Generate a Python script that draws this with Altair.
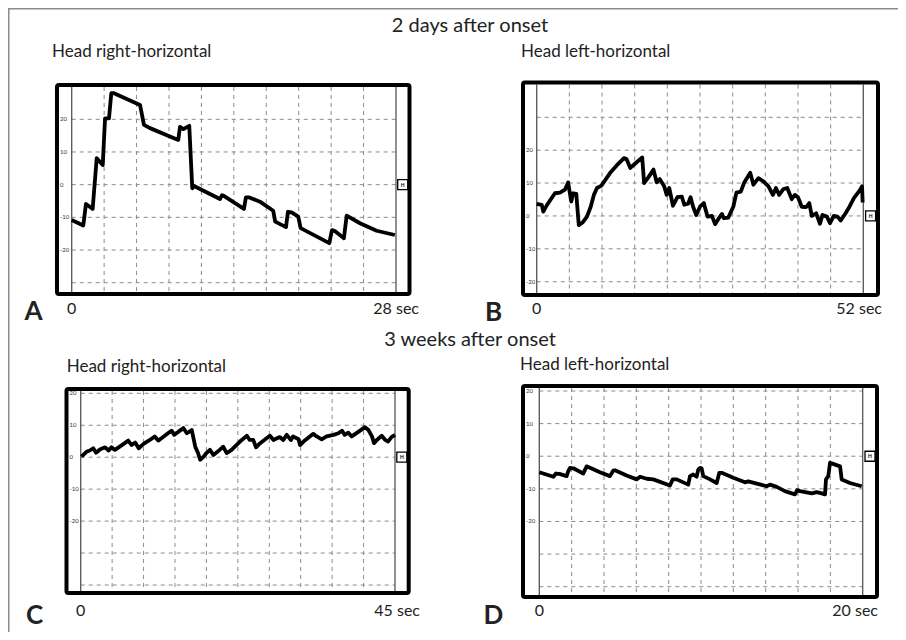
import altair as alt
import pandas as pd

# ---------------- data ----------------
A_t = [0, 1.00, 1.23, 1.81, 2.16, 2.68, 2.88, 3.22, 3.42, 3.65, 5.90, 6.24, 6.76, 9.20, 9.35, 9.64,
       10.15, 10.41, 10.56, 12.80, 12.98, 13.17, 14.87, 15.04, 15.33, 16.25, 17.40, 17.57, 18.50,
       18.67, 18.99, 19.56, 19.77, 22.24, 22.47, 22.72, 23.50, 23.74, 24.89, 26.33, 27.9]
A_v = [-10.8, -12.5, -5.9, -7.4, 8.1, 6.0, 20.3, 20.3, 28.0, 28.0, 24.4, 18.3, 17.3, 13.7, 17.7, 17.0,
       18.0, -1.1, -0.4, -4.4, -3.2, -3.5, -7.4, -3.9, -3.9, -5.2, -8.0, -11.3, -13.0,
       -8.3, -8.5, -9.8, -13.3, -17.9, -13.9, -14.2, -16.4, -9.5, -11.8, -14.1, -15.4]

B_t = [0, 0.8, 1.05, 1.6, 2.9, 3.7, 4.5, 5.0, 5.5, 5.8, 6.3, 6.7, 7.3, 8.0, 8.6, 9.1, 9.6, 10.3,
       11.7, 12.7, 13.9, 14.3, 14.9, 15.6, 16.8, 17.1, 17.8, 18.6, 19.1, 19.6, 20.3, 20.7, 21.1,
       21.7, 22.4, 23.1, 23.5, 24.1, 24.5, 24.9, 25.4, 26.0, 26.6, 27.2, 27.9, 28.4, 28.9, 29.5,
       29.8, 30.5, 31.3, 31.8, 32.5, 33.0, 34.0, 34.5, 35.3, 36.1, 36.9, 37.6, 38.1, 38.6, 39.3,
       39.9, 40.6, 41.1, 41.6, 42.2, 42.9, 43.4, 43.8, 44.5, 45.1, 45.5, 46.2, 46.7, 47.3, 47.9,
       48.4, 49.1, 49.8, 50.5, 51.4, 51.8, 51.9]
B_v = [3.7, 3.4, 1.3, 3.2, 6.9, 7.1, 8.0, 10.2, 4.4, 6.9, 6.7, -2.8, -2.0, -0.2, 2.8, 6.4, 8.5, 9.2,
       13.1, 15.3, 17.6, 17.3, 14.6, 15.8, 17.8, 10.0, 11.8, 14.1, 10.2, 11.2, 9.0, 6.4, 8.5,
       3.1, 5.7, 5.9, 3.4, 3.7, 5.7, 2.8, 0.3, 2.8, 3.9, -0.2, 0.0, -2.5, -1.0, 0.6,
       -0.7, -0.5, 2.8, 7.1, 7.4, 10.0, 13.1, 9.5, 11.5, 10.5, 9.0, 6.4, 8.5, 6.4, 8.2,
       8.5, 5.1, 6.4, 5.7, 2.8, 2.7, 3.9, 0.0, 0.8, -2.4, 0.3, -0.2, -2.2, 0.0, -0.2,
       -1.4, 0.6, 2.8, 5.4, 7.7, 9.0, 4.1]

C_t = [0.1, 0.9, 1.3, 1.8, 2.2, 2.8, 3.5, 4.0, 4.4, 4.9, 5.9, 6.8, 7.3, 7.8, 8.3, 9.0, 9.9, 10.6,
       11.1, 11.8, 12.5, 13.0, 13.4, 14.0, 14.7, 15.2, 15.9, 16.2, 16.4, 16.8, 17.1, 17.6, 18.0,
       18.5, 19.0, 19.9, 20.4, 20.9, 21.6, 22.8, 23.8, 24.2, 24.7, 25.1, 25.7, 26.6, 27.1, 27.6,
       28.1, 28.5, 29.0, 29.5, 30.1, 30.4, 31.2, 31.4, 31.9, 32.8, 33.3, 33.8, 34.5, 35.2, 36.2,
       36.9, 37.4, 37.8, 38.3, 38.8, 39.8, 40.7, 41.2, 41.7, 42.0, 42.4, 43.1, 43.6, 44.0, 44.5,
       45.0]
C_v = [0.2, 1.8, 2.1, 2.8, 1.4, 2.5, 3.1, 2.1, 3.1, 2.3, 3.8, 5.2, 3.8, 4.6, 2.8, 4.2, 5.4, 6.5,
       5.2, 6.3, 7.5, 8.3, 7.0, 8.0, 9.1, 7.5, 8.5, 5.4, 3.3, 1.3, -0.8, 0.2, 1.3,
       2.3, 0.7, 2.3, 3.3, 1.3, 2.3, 4.9, 6.7, 5.4, 5.4, 3.1, 4.4, 5.9, 6.7, 5.4,
       5.9, 6.3, 5.4, 7.0, 5.4, 6.5, 5.6, 3.8, 4.9, 6.5, 7.3, 6.5, 5.6, 6.5, 7.0,
       7.5, 8.3, 7.0, 7.7, 6.5, 8.0, 9.4, 8.5, 6.5, 4.4, 5.4, 6.7, 5.4, 4.9, 6.3,
       7.0]

D_t = [0, 0.87, 1.03, 1.24, 1.69, 1.79, 1.90, 2.10, 2.72, 2.83, 2.93, 3.75, 4.37, 4.58, 4.68, 5.40,
       6.02, 6.23, 6.64, 7.05, 8.08, 8.25, 8.50, 9.21, 9.32, 9.52, 9.73, 9.83, 9.94, 10.04, 10.14,
       10.56, 10.97, 11.13, 11.28, 12.00, 12.72, 12.92, 14.06, 14.27, 14.68, 15.19, 15.81, 15.95,
       16.12, 16.85, 17.15, 17.46, 17.67, 17.73, 17.87, 17.98, 18.08, 18.60, 18.70, 19.21, 19.94]
D_v = [-4.9, -6.3, -5.3, -5.4, -6.1, -4.6, -3.6, -3.7, -5.3, -4.1, -3.1, -4.9, -6.1, -4.4, -4.3, -5.9,
       -7.1, -6.3, -6.9, -7.1, -9.0, -7.1, -7.1, -8.7, -6.1, -5.6, -6.3, -4.1, -3.6, -3.7, -6.1,
       -7.1, -8.2, -5.1, -5.1, -6.6, -8.0, -7.7, -9.2, -8.7, -9.4, -10.7, -11.7, -10.4,
       -10.7, -11.4, -11.0, -11.4, -11.7, -7.1, -6.1, -2.0, -2.2, -3.1, -7.1, -8.2, -9.2]

DURATIONS = [28, 52, 45, 20]
TICK_VALUES = [20, 10, 0, -10, -20]
TICK_LABELS = ["20", "10", "0", "-10", "-20"]
SECTION_TITLES = ["2 days after onset", "3 weeks after onset"]
SUBTITLES = ["Head right-horizontal", "Head left-horizontal",
             "Head right-horizontal", "Head left-horizontal"]
LETTERS = ["A", "B", "C", "D"]

FONT = "Lato"
W, H = 890, 624
ONE = pd.DataFrame({"k": [0]})


def panel(t, v, T, xr, yd, yr, frame, hx, hgrid_vals, sec_x, lab_y):
    x0, y0, x1, y1 = frame
    xs = alt.Scale(domain=[0, T], range=xr, nice=False, zero=False)
    ys = alt.Scale(domain=yd, range=yr, nice=False, zero=False)

    def X(f):
        return alt.X(f, type="quantitative", scale=xs, axis=None)

    def Y(f):
        return alt.Y(f, type="quantitative", scale=ys, axis=None)

    vgrid = alt.Chart(pd.DataFrame({"t": [T * k / 10 for k in range(1, 10)]})).mark_rule(
        color="#8a8a8a", strokeWidth=1, strokeDash=[4, 4]
    ).encode(x=X("t"), y=alt.value(y0 + 2), y2=alt.value(y1 - 2))

    hgrid = alt.Chart(pd.DataFrame({"v": hgrid_vals, "t0": 0, "t1": T})).mark_rule(
        color="#8a8a8a", strokeWidth=1, strokeDash=[4, 4]
    ).encode(x=X("t0"), x2="t1", y=Y("v"))

    inner = alt.Chart(pd.DataFrame({"t": [0, T]})).mark_rule(
        color="#555555", strokeWidth=1.3
    ).encode(x=X("t"), y=alt.value(y0 + 2), y2=alt.value(y1 - 2))

    trace = alt.Chart(pd.DataFrame({"t": t, "v": v})).mark_line(
        color="black", strokeWidth=3.8, strokeJoin="round"
    ).encode(x=X("t"), y=Y("v"))

    box = alt.Chart(ONE).mark_rect(
        fill="white", fillOpacity=0, stroke="black", strokeWidth=4, cornerRadius=2
    ).encode(x=alt.value(x0), x2=alt.value(x1), y=alt.value(y0), y2=alt.value(y1))

    ticks = alt.Chart(pd.DataFrame({"v": TICK_VALUES, "lab": TICK_LABELS})).mark_text(
        align="left", baseline="middle", fontSize=6, font=FONT, color="#333333"
    ).encode(x=alt.value(x0 + 3), y=Y("v"), text="lab")

    hbox = alt.Chart(pd.DataFrame({"v": [0]})).mark_point(
        shape="square", size=100, filled=True, fill="white", stroke="black",
        strokeWidth=1.3, opacity=1
    ).encode(x=alt.value(hx), y=Y("v"))
    hlet = alt.Chart(pd.DataFrame({"v": [0]})).mark_text(
        text="H", fontSize=5, fontWeight="bold", font=FONT, color="black", baseline="middle"
    ).encode(x=alt.value(hx), y=Y("v"))

    zero_lab = alt.Chart(pd.DataFrame({"t": [0]})).mark_text(
        text="0", fontSize=16, font=FONT, color="#222222", baseline="middle", align="center"
    ).encode(x=X("t"), y=alt.value(lab_y))
    sec_lab = alt.Chart(ONE).mark_text(
        text=f"{T} sec", fontSize=16, font=FONT, color="#222222", baseline="middle", align="right"
    ).encode(x=alt.value(sec_x), y=alt.value(lab_y))

    return alt.layer(vgrid, hgrid, inner, trace, box, ticks, hbox, hlet, zero_lab, sec_lab)


pA = panel(A_t, A_v, DURATIONS[0], [63.7, 388], [-30, 20], [274.7, 111.3],
           (49, 77, 401.5, 286), 394.7, [20, 10, 0, -10, -20, -30], 411, 301)
pB = panel(B_t, B_v, DURATIONS[1], [528.7, 855.3], [-20, 30], [273.7, 109.3],
           (515, 74.5, 870, 287), 862.6, [30, 20, 10, 0, -10, -20], 874, 301)
pC = panel(C_t, C_v, DURATIONS[2], [72.7, 387], [-40, 20], [577, 385.3],
           (58.5, 381, 400.7, 585), 393.8, [20, 10, 0, -10, -20, -30, -40], 412, 603)
pD = panel(D_t, D_v, DURATIONS[3], [531.3, 854.7], [-40, 20], [578.7, 383],
           (515, 378, 869, 589), 862, [20, 10, 0, -10, -20, -30, -40], 870, 603)


def txt(s, x, y, size, weight="normal", align="center"):
    return alt.Chart(ONE).mark_text(
        text=s, fontSize=size, fontWeight=weight, font=FONT, color="#222222",
        align=align, baseline="middle"
    ).encode(x=alt.value(x), y=alt.value(y))


texts = [
    txt(SECTION_TITLES[0], 462, 18, 20),
    txt(SECTION_TITLES[1], 462, 332, 20),
    txt(SUBTITLES[0], 44, 44, 17, align="left"),
    txt(SUBTITLES[1], 513, 44, 17, align="left"),
    txt(SUBTITLES[2], 58.7, 359, 17, align="left"),
    txt(SUBTITLES[3], 512, 357, 17, align="left"),
    txt(LETTERS[0], 25.5, 304, 26, "bold"),
    txt(LETTERS[1], 485.5, 304.5, 26, "bold"),
    txt(LETTERS[2], 26.5, 608, 26, "bold"),
    txt(LETTERS[3], 485.5, 608, 26, "bold"),
]

border_top = alt.Chart(ONE).mark_rule(color="#8c8c8c", strokeWidth=1.5).encode(
    x=alt.value(0), x2=alt.value(W), y=alt.value(0.75))
border_left = alt.Chart(ONE).mark_rule(color="#8c8c8c", strokeWidth=1.5).encode(
    x=alt.value(0.75), y=alt.value(0), y2=alt.value(H))

chart = alt.layer(
    border_top, border_left, pA, pB, pC, pD, *texts
).resolve_scale(x="independent", y="independent").properties(
    width=W, height=H, padding=0, autosize=alt.AutoSizeParams(type="none"),
    background="white"
).configure_view(stroke=None)

chart.save("out.html", embed_options={"renderer": "svg", "actions": False})
